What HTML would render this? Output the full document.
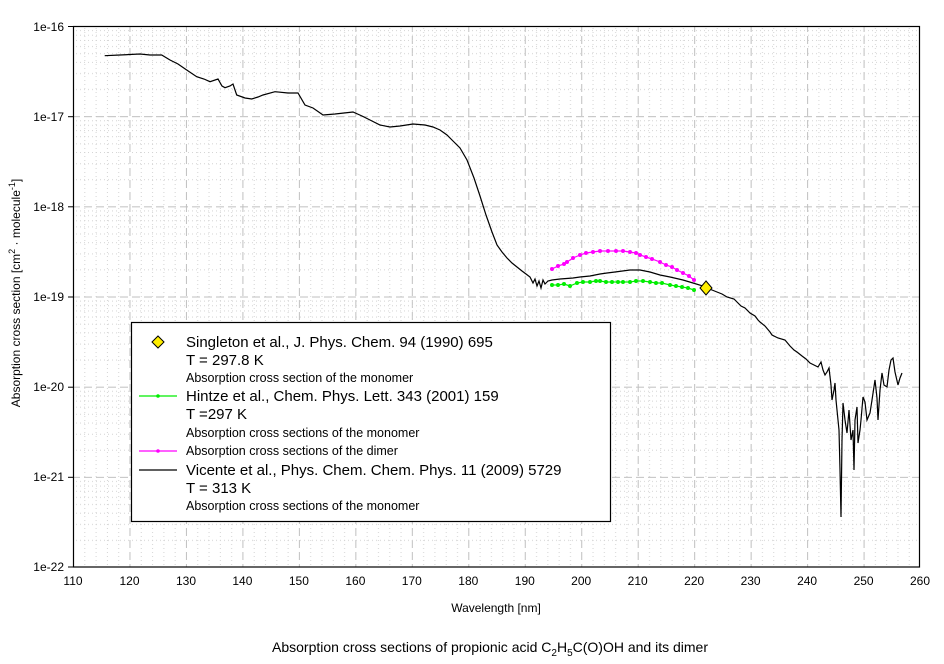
<!DOCTYPE html>
<html><head><meta charset="utf-8"><style>
html,body{margin:0;padding:0;background:#fff;}
svg{display:block;font-family:"Liberation Sans",Arial,sans-serif;}
</style></head><body>
<svg width="944" height="664" viewBox="0 0 944 664" xmlns="http://www.w3.org/2000/svg">
<defs>
<pattern id="vg" patternUnits="userSpaceOnUse" x="73" y="0" width="56.47" height="664">
<line x1="0.5" y1="0" x2="0.5" y2="664" stroke="#c0c0c0" stroke-dasharray="8,4"/>
<g stroke="#d4d4d4" stroke-dasharray="1,3">
<line x1="11.8" y1="0" x2="11.8" y2="664"/><line x1="23.1" y1="0" x2="23.1" y2="664"/>
<line x1="34.4" y1="0" x2="34.4" y2="664"/><line x1="45.7" y1="0" x2="45.7" y2="664"/>
</g></pattern>
<pattern id="hg" patternUnits="userSpaceOnUse" x="0" y="26" width="944" height="90.17">
<line x1="0" y1="0.5" x2="944" y2="0.5" stroke="#c0c0c0" stroke-dasharray="8,4"/>
<g stroke="#d4d4d4" stroke-dasharray="1,3">
<line x1="0" y1="4.6" x2="944" y2="4.6"/><line x1="0" y1="9.2" x2="944" y2="9.2"/>
<line x1="0" y1="14.5" x2="944" y2="14.5"/><line x1="0" y1="20.5" x2="944" y2="20.5"/>
<line x1="0" y1="27.6" x2="944" y2="27.6"/><line x1="0" y1="36.4" x2="944" y2="36.4"/>
<line x1="0" y1="47.6" x2="944" y2="47.6"/><line x1="0" y1="63.5" x2="944" y2="63.5"/>
</g></pattern>
</defs>
<rect x="73" y="26" width="847" height="541" fill="url(#vg)"/>
<rect x="73" y="26" width="847" height="541" fill="url(#hg)"/>
<rect x="73.5" y="26.5" width="846" height="540.5" fill="none" stroke="#000" stroke-width="1.2"/>
<g stroke="#000">
<line x1="68" y1="26.5" x2="73" y2="26.5"/><line x1="68" y1="116.7" x2="73" y2="116.7"/>
<line x1="68" y1="206.8" x2="73" y2="206.8"/><line x1="68" y1="297" x2="73" y2="297"/>
<line x1="68" y1="387.2" x2="73" y2="387.2"/><line x1="68" y1="477.3" x2="73" y2="477.3"/>
<line x1="68" y1="567" x2="73" y2="567"/>
</g>
<g font-size="12" text-anchor="end">
<text x="64" y="31">1e-16</text><text x="64" y="121">1e-17</text><text x="64" y="211">1e-18</text>
<text x="64" y="301">1e-19</text><text x="64" y="391">1e-20</text><text x="64" y="481">1e-21</text>
<text x="64" y="571">1e-22</text>
</g>
<g font-size="12" text-anchor="middle">
<text x="73" y="585">110</text><text x="129.5" y="585">120</text><text x="186" y="585">130</text>
<text x="242.4" y="585">140</text><text x="298.9" y="585">150</text><text x="355.4" y="585">160</text>
<text x="411.8" y="585">170</text><text x="468.3" y="585">180</text><text x="524.8" y="585">190</text>
<text x="581.2" y="585">200</text><text x="637.7" y="585">210</text><text x="694.2" y="585">220</text>
<text x="750.6" y="585">230</text><text x="807.1" y="585">240</text><text x="863.6" y="585">250</text>
<text x="920" y="585">260</text>
</g>
<text x="496" y="612" font-size="12" text-anchor="middle">Wavelength [nm]</text>
<text transform="translate(20,293) rotate(-90)" font-size="12" text-anchor="middle">Absorption cross section [cm<tspan dy="-5" font-size="9">2</tspan><tspan dy="5"> · molecule</tspan><tspan dy="-5" font-size="9">-1</tspan><tspan dy="5">]</tspan></text>
<text x="490" y="652" font-size="14" text-anchor="middle">Absorption cross sections of propionic acid C<tspan dy="4" font-size="10">2</tspan><tspan dy="-4">H</tspan><tspan dy="4" font-size="10">5</tspan><tspan dy="-4">C(O)OH and its dimer</tspan></text>

<polyline fill="none" stroke="#000" stroke-width="1.2" points="104.7,55.7 120,55 140,54 150,55 161.7,55 170,60 178,64 186.7,70 196.7,76.7 204,79 210,81.7 218,79 222,86 225,87.7 230,86 233,84 236.7,95 245,98 251.7,99 258,97 263,95 275,91.7 288,93 298,93 305,105 313,108 323,115 335,114 353,112 362,116 370,120 380,125 390,127 400,126 413,124 425,125 433,127 440,130 447,135 453,141 460,148 467,160 474,178 480,196 486,215 492,232 497,245 502,252 507,258 512,263 517,267 522,271 526,274 530,277 533,283 535,279 537,286 539,281 541,288 543,280 545,284 548,281 552,280 560,279 573,278 580,277 590,276 600,274 607,273 615,272 630,270 640,270 650,272 660,275 670,277 683,280 693,283 703,286 707,288 712,290 717,292 722,294 727,297 734,299 737,302 741,306 745,308 750,313 755,316 758,320 760,322 765,326 770,332 772,335 778,338 785,340 790,346 794,350 797,352 802,356 806,359 810,363 814,365 818,367 821,362 823,370 825,375 827,372 829,368 831,385 832,400 834,390 835,383 836,400 838,420 839,430 840,470 841,517 842,440 843,403 845,420 847,433 849,410 851,440 853,430 854,470 855,420 857,407 858,443 860,430 861,420 863,397 865,402 867,420 870,413 872,400 875,380 877,398 878,420 880,390 882,373 884,385 887,387 889,370 891,360 893,358 895,372 898,385 900,378 902,373"/>
<polyline fill="none" stroke="#ff00ff" stroke-width="1.2" points="552,269 558,266 564,264 567,262 573,258 580,255 586,253 593,252 600,251 608,251 616,251 623,251 630,252 636,253 640,255 646,257 652,259 660,262 666,265 672,267 677,270 683,273 689,276 694,280"/>
<g fill="#ff00ff"><circle cx="552" cy="269" r="2"/><circle cx="558" cy="266" r="2"/><circle cx="564" cy="264" r="2"/><circle cx="567" cy="262" r="2"/><circle cx="573" cy="258" r="2"/><circle cx="580" cy="255" r="2"/><circle cx="586" cy="253" r="2"/><circle cx="593" cy="252" r="2"/><circle cx="600" cy="251" r="2"/><circle cx="608" cy="251" r="2"/><circle cx="616" cy="251" r="2"/><circle cx="623" cy="251" r="2"/><circle cx="630" cy="252" r="2"/><circle cx="636" cy="253" r="2"/><circle cx="640" cy="255" r="2"/><circle cx="646" cy="257" r="2"/><circle cx="652" cy="259" r="2"/><circle cx="660" cy="262" r="2"/><circle cx="666" cy="265" r="2"/><circle cx="672" cy="267" r="2"/><circle cx="677" cy="270" r="2"/><circle cx="683" cy="273" r="2"/><circle cx="689" cy="276" r="2"/><circle cx="694" cy="280" r="2"/></g>
<polyline fill="none" stroke="#00ee00" stroke-width="1.2" points="552,285 558,285 564,284 570,286 577,283 583,282 590,282 596,281 600,281 606,282 612,282 618,282 623,282 630,282 636,281 643,281 650,282 656,283 662,283 670,285 676,286 682,287 688,288 694,290"/>
<g fill="#00ee00"><circle cx="552" cy="285" r="2"/><circle cx="558" cy="285" r="2"/><circle cx="564" cy="284" r="2"/><circle cx="570" cy="286" r="2"/><circle cx="577" cy="283" r="2"/><circle cx="583" cy="282" r="2"/><circle cx="590" cy="282" r="2"/><circle cx="596" cy="281" r="2"/><circle cx="600" cy="281" r="2"/><circle cx="606" cy="282" r="2"/><circle cx="612" cy="282" r="2"/><circle cx="618" cy="282" r="2"/><circle cx="623" cy="282" r="2"/><circle cx="630" cy="282" r="2"/><circle cx="636" cy="281" r="2"/><circle cx="643" cy="281" r="2"/><circle cx="650" cy="282" r="2"/><circle cx="656" cy="283" r="2"/><circle cx="662" cy="283" r="2"/><circle cx="670" cy="285" r="2"/><circle cx="676" cy="286" r="2"/><circle cx="682" cy="287" r="2"/><circle cx="688" cy="288" r="2"/><circle cx="694" cy="290" r="2"/></g>
<polygon points="706,281 712,288 706,295 700,288" fill="#ffee00" stroke="#000" stroke-width="1"/>

<rect x="131.5" y="322.5" width="479" height="199" fill="#fff" stroke="#000" stroke-width="1.2"/>
<polygon points="158,336 164,342 158,348 152,342" fill="#ffee00" stroke="#000" stroke-width="1"/>
<line x1="139" y1="396" x2="177" y2="396" stroke="#00ee00" stroke-width="1.2"/><circle cx="158" cy="396" r="1.8" fill="#00ee00"/>
<line x1="139" y1="451" x2="177" y2="451" stroke="#ff00ff" stroke-width="1.2"/><circle cx="158" cy="451" r="1.8" fill="#ff00ff"/>
<line x1="139" y1="470" x2="177" y2="470" stroke="#000" stroke-width="1.2"/>
<g font-size="15">
<text x="186" y="347">Singleton et al., J. Phys. Chem. 94 (1990) 695</text>
<text x="186" y="365">T = 297.8 K</text>
<text x="186" y="401">Hintze et al., Chem. Phys. Lett. 343 (2001) 159</text>
<text x="186" y="419">T =297 K</text>
<text x="186" y="475">Vicente et al., Phys. Chem. Chem. Phys. 11 (2009) 5729</text>
<text x="186" y="493">T = 313 K</text>
</g>
<g font-size="12.5">
<text x="186" y="382">Absorption cross section of the monomer</text>
<text x="186" y="437">Absorption cross sections of the monomer</text>
<text x="186" y="455">Absorption cross sections of the dimer</text>
<text x="186" y="510">Absorption cross sections of the monomer</text>
</g>
</svg>
</body></html>
